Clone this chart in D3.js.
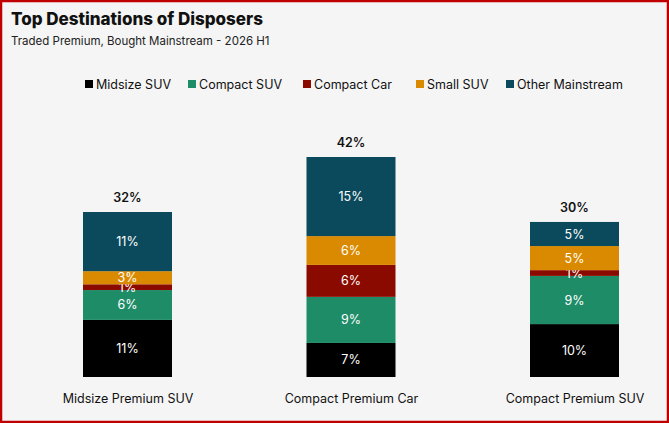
<!DOCTYPE html>
<html><head><meta charset="utf-8">
<script src="https://cdn.jsdelivr.net/npm/d3@7"></script>
<style>body{margin:0;background:#fff}text{font-family:Inter,"Noto Sans",sans-serif}</style>
</head><body><div id="chart"></div>
<script>
var categories = ["Midsize Premium SUV", "Compact Premium Car", "Compact Premium SUV"];
var seriesNames = ["Midsize SUV", "Compact SUV", "Compact Car", "Small SUV", "Other Mainstream"];
var colors = ["#000000", "#1f8c68", "#8b0a00", "#d98a00", "#0b4a5c"];
var midsizeSuv = [10.9, 6.5, 10.1];
var compactSuv = [5.7, 8.8, 9.2];
var compactCar = [1.1, 6.1, 1.1];
var smallSuv = [2.5, 5.5, 4.6];
var otherMainstream = [11.3, 15.1, 4.6];
var segLabels = [["11%","6%","1%","3%","11%"],["7%","9%","6%","6%","15%"],["10%","9%","1%","5%","5%"]];
var totalLabels = ["32%", "42%", "30%"];

var W = 669, H = 423;
var svg = d3.select("#chart").append("svg").attr("width", W).attr("height", H);
svg.append("rect").attr("x",1).attr("y",1).attr("width",W-2).attr("height",H-2)
  .attr("fill","#f5f5f5").attr("stroke","#c00000").attr("stroke-width",2.5);

svg.append("text").attr("x",11).attr("y",25).attr("font-size",17).attr("font-weight",800)
  .attr("fill","#111").text("Top Destinations of Disposers");
svg.append("text").attr("x",11).attr("y",45).attr("font-size",11.5).attr("fill","#222")
  .text("Traded Premium, Bought Mainstream - 2026 H1");

// legend
var legX = [85, 188, 303, 416, 506];
seriesNames.forEach(function(n, i) {
  svg.append("rect").attr("x",legX[i]).attr("y",80).attr("width",8).attr("height",8).attr("fill",colors[i]);
  svg.append("text").attr("x",legX[i]+11).attr("y",88.5).attr("font-size",12.5).attr("fill","#111").text(n);
});

var data = categories.map(function(c, i) {
  return {cat:c, s0:midsizeSuv[i], s1:compactSuv[i], s2:compactCar[i], s3:smallSuv[i], s4:otherMainstream[i], idx:i};
});
var keys = ["s0","s1","s2","s3","s4"];
var stack = d3.stack().keys(keys)(data);

var x = d3.scalePoint().domain(categories).range([127.5, 574.5]);
var bw = 89;
var y = d3.scaleLinear().domain([0, 42]).range([377, 157]);

stack.forEach(function(layer, k) {
  var g = svg.append("g");
  g.selectAll("rect").data(layer).enter().append("rect")
    .attr("x", function(d){ return x(d.data.cat) - bw/2; })
    .attr("y", function(d){ return y(d[1]); })
    .attr("width", bw)
    .attr("height", function(d){ return y(d[0]) - y(d[1]); })
    .attr("fill", colors[k]);
  g.selectAll("text").data(layer).enter().append("text")
    .attr("x", function(d){ return x(d.data.cat); })
    .attr("y", function(d){ return (y(d[0]) + y(d[1]))/2 + 4.5; })
    .attr("text-anchor","middle").attr("font-size",12.5).attr("fill","#fff")
    .text(function(d){ return segLabels[d.data.idx][k]; });
});

svg.selectAll(".tot").data(data).enter().append("text")
  .attr("x", function(d){ return x(d.cat); })
  .attr("y", function(d){ return y(d.s0+d.s1+d.s2+d.s3+d.s4) - 10; })
  .attr("text-anchor","middle").attr("font-size",12.5).attr("font-weight",600).attr("fill","#111")
  .text(function(d){ return totalLabels[d.idx]; });

var xAxis = d3.axisBottom(x).tickSize(0).tickPadding(17);
var ax = svg.append("g").attr("transform","translate(0,377)").call(xAxis);
ax.select(".domain").remove();
ax.selectAll("text").attr("font-size",12.5).attr("fill","#111").style("font-family","Inter,'Noto Sans',sans-serif");
</script></body></html>
